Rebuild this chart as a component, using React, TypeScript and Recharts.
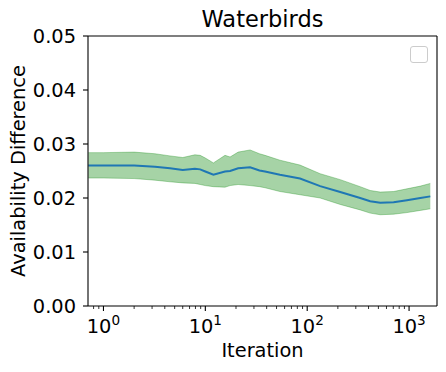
import React from 'react';
import { ComposedChart, Area, Line, XAxis, YAxis, Legend } from 'recharts';

// iterations (log x) and the mean / lower / upper of the availability difference
const iterations = [0.71, 1, 2, 3.2, 4.5, 6, 7.9, 8.9, 10, 12, 15.6, 17.5, 21, 27.5, 34, 38.5, 54, 85, 134, 211, 331, 415, 521, 705, 953, 1290, 1616];
const meanDiff = [0.026, 0.026, 0.026, 0.0258, 0.0255, 0.0252, 0.0254, 0.0253, 0.0249, 0.0243, 0.0249, 0.025, 0.0255, 0.0257, 0.0251, 0.0249, 0.0243, 0.0236, 0.0222, 0.0211, 0.02, 0.0194, 0.0191, 0.0192, 0.0196, 0.02, 0.0203];
const lowerDiff = [0.0237, 0.0237, 0.0236, 0.0233, 0.023, 0.0228, 0.0227, 0.0225, 0.0223, 0.0221, 0.022, 0.0223, 0.0225, 0.0223, 0.0221, 0.0219, 0.0212, 0.0206, 0.02, 0.0188, 0.0178, 0.0172, 0.0169, 0.017, 0.0173, 0.0177, 0.018];
const upperDiff = [0.0284, 0.0284, 0.0285, 0.0282, 0.0278, 0.0275, 0.028, 0.0279, 0.0274, 0.0265, 0.0279, 0.0276, 0.0285, 0.0289, 0.0282, 0.0279, 0.027, 0.0261, 0.0245, 0.0234, 0.0221, 0.0214, 0.0211, 0.0212, 0.0217, 0.0222, 0.0227];

const yTicks = [0, 0.01, 0.02, 0.03, 0.04, 0.05];
const xDomain: [number, number] = [0.705, 1880];
const decades = [0.1, 1, 10, 100, 1000];

const xTicks: number[] = [];
decades.forEach((d) => {
  for (let m = 1; m <= 9; m++) {
    const v = d * m;
    if (v >= xDomain[0] && v <= xDomain[1]) xTicks.push(v);
  }
});

const data = iterations.map((it, i) => ({
  iter: it,
  mean: meanDiff[i],
  band: [lowerDiff[i], upperDiff[i]],
}));

const FONT = 'DejaVu Sans';

const XTick = (props: any) => {
  const { x, y, payload } = props;
  const lg = Math.log10(payload.value);
  const exp = Math.round(lg);
  const major = Math.abs(lg - exp) < 1e-6;
  return (
    <g>
      <line x1={x} x2={x} y1={y} y2={y + (major ? 5 : 3)} stroke="#000" strokeWidth={major ? 1.1 : 0.8} />
      {major && (
        <text x={x} y={y + 27} textAnchor="middle" fontSize={19.4} fontFamily={FONT} fill="#000">
          10<tspan dy={-8} fontSize={13.6}>{exp}</tspan>
        </text>
      )}
    </g>
  );
};

const YTick = (props: any) => {
  const { x, y, payload } = props;
  return (
    <g>
      <line x1={x - 5} x2={x} y1={y} y2={y} stroke="#000" strokeWidth={1.1} />
      <text x={x - 12} y={y + 7} textAnchor="end" fontSize={19.4} fontFamily={FONT} fill="#000">
        {payload.value.toFixed(2)}
      </text>
    </g>
  );
};

export default function App() {
  return (
    <div style={{ position: 'relative', width: 446, height: 372 }}>
      <style>{'body{margin:0}'}</style>
      <ComposedChart width={446} height={372} data={data} margin={{ top: 0, right: 0, bottom: 0, left: 0 }}>
        <XAxis
          dataKey="iter"
          type="number"
          scale="log"
          domain={xDomain}
          allowDataOverflow
          ticks={xTicks}
          interval={0}
          tick={<XTick />}
          tickLine={false}
          tickSize={0}
          tickMargin={0}
          height={66}
          axisLine={{ stroke: '#000', strokeWidth: 1.1 }}
          label={{
            content: (p: any) => (
              <text x={p.viewBox.x + p.viewBox.width / 2} y={357} textAnchor="middle" fontSize={19.4} fontFamily={FONT} fill="#000">
                Iteration
              </text>
            ),
          }}
        />
        <XAxis
          xAxisId="top"
          orientation="top"
          dataKey="iter"
          type="number"
          scale="log"
          domain={xDomain}
          allowDataOverflow
          tick={false}
          tickLine={false}
          height={36}
          axisLine={{ stroke: '#000', strokeWidth: 1.1 }}
          label={{
            content: (p: any) => (
              <text x={p.viewBox.x + p.viewBox.width / 2} y={27} textAnchor="middle" fontSize={22.5} fontFamily={FONT} fill="#000">
                Waterbirds
              </text>
            ),
          }}
        />
        <YAxis
          type="number"
          domain={[0, 0.05]}
          ticks={yTicks}
          interval={0}
          tick={<YTick />}
          tickLine={false}
          tickSize={0}
          tickMargin={0}
          width={88}
          axisLine={{ stroke: '#000', strokeWidth: 1.1 }}
          label={{
            content: (p: any) => {
              const cy = p.viewBox.y + p.viewBox.height / 2;
              return (
                <text x={25} y={cy} transform={`rotate(-90, 25, ${cy})`} textAnchor="middle" fontSize={19.4} fontFamily={FONT} fill="#000">
                  Availability Difference
                </text>
              );
            },
          }}
        />
        <YAxis
          yAxisId="right"
          orientation="right"
          type="number"
          domain={[0, 0.05]}
          tick={false}
          tickLine={false}
          width={9}
          axisLine={{ stroke: '#000', strokeWidth: 1.1 }}
        />
        <Legend
          layout="horizontal"
          verticalAlign="middle"
          align="center"
          wrapperStyle={{ position: 'absolute', top: 46, left: 410, width: 18, height: 17 }}
          content={() => (
            <div style={{ width: 16, height: 15, border: '1px solid #cccccc', borderRadius: 3, background: 'rgba(255,255,255,0.8)' }} />
          )}
        />
        <Area
          dataKey="band"
          type="linear"
          fill="#008000"
          fillOpacity={0.35}
          stroke="#008000"
          strokeOpacity={0.3}
          strokeWidth={1}
          isAnimationActive={false}
          legendType="none"
        />
        <Line dataKey="mean" type="linear" stroke="#1f77b4" strokeWidth={2} dot={false} isAnimationActive={false} legendType="none" />
      </ComposedChart>
    </div>
  );
}
